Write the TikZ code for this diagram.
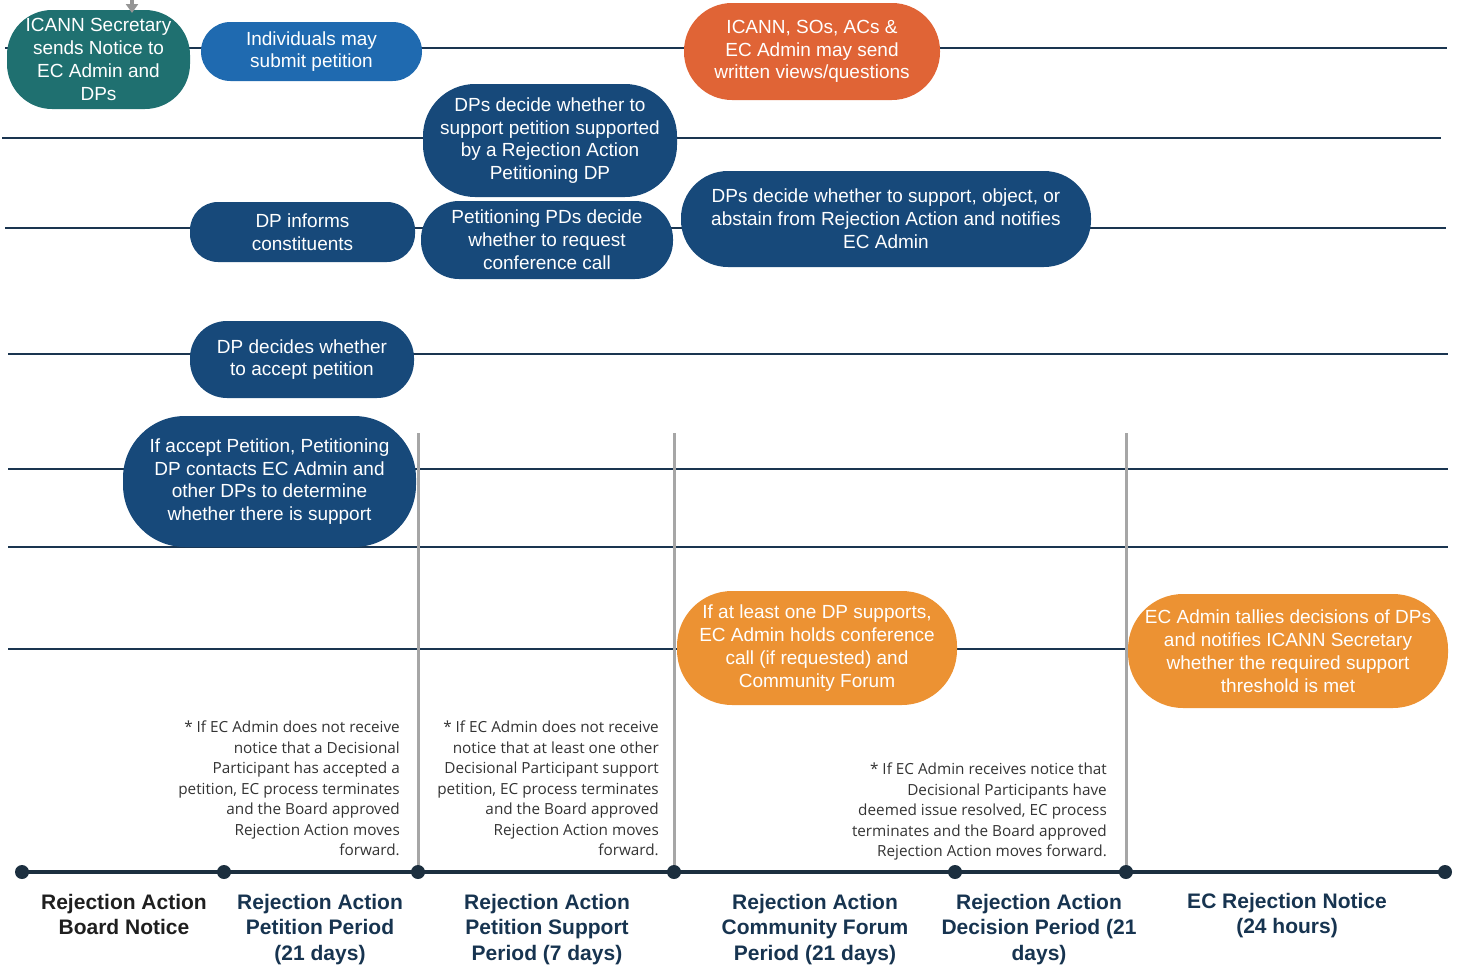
\documentclass[tikz,border=0pt]{standalone}
\usepackage{fontspec}
\setmainfont{Liberation Sans}
\newfontfamily\notefont{Open Sans}
\usetikzlibrary{positioning,arrows.meta}

\definecolor{secrteal}{HTML}{1F7070}
\definecolor{petblue}{HTML}{1F6AB0}
\definecolor{viewred}{HTML}{E06436}
\definecolor{dpnavy}{HTML}{17497A}
\definecolor{fororange}{HTML}{EC9233}
\definecolor{lanenavy}{HTML}{1A3550}
\definecolor{tlnavy}{HTML}{1C2F3F}
\definecolor{vgray}{HTML}{A6A6A6}
\definecolor{notegray}{HTML}{333333}
\definecolor{labnavy}{HTML}{173450}

\begin{document}
\begin{tikzpicture}[
	  x=1pt, y=-1pt,
	  %style for lanes
	  lane/.style={draw=lanenavy, line width=2.2pt},
	  %style for phase borders
	  vline/.style={draw=vgray, line width=3pt},
	  %style for the timeline
	  tline/.style={draw=tlnavy, line width=4pt},
	  % style for boxes
	  pill/.style={rectangle, rounded corners=#1, inner sep=0pt, align=center,
	    text=white, font=\fontsize{19}{22.8}\selectfont},
	  % style for notes
	  note/.style={inner sep=0pt, align=right, text=notegray,
	    font=\notefont\fontsize{15.3}{20.5}\selectfont},
	  % style for phase labels
	  lab/.style={inner sep=0pt, align=center, anchor=north, text=labnavy,
	    font=\bfseries\fontsize{21}{25.5}\selectfont}]

      \useasboundingbox (0,0) rectangle (1461,969);

      % lanes
      \foreach \y/\xa/\xb in {48/5/1447, 138/2/1441, 228/5/1446, 354/8/1448,
                              469/8/1448, 547/8/1448, 649/8/1440}
        \draw[lane] (\xa,\y) -- (\xb,\y);

      % timeline points
      \foreach \n/\x in {1/22, 2/224, 3/418, 4/674, 5/955, 6/1126, 7/1445}
        \coordinate (t\n) at (\x,872);
      \foreach \n in {3,4,6}
        \draw[vline] (t\n) -- ++(0,-439);

      \node[pill=45pt, fill=secrteal, minimum width=183pt, minimum height=99pt]
        (secr) at (98.5,59.5) {ICANN Secretary\\sends Notice to\\EC Admin and\\DPs};
      \node[pill=29.5pt, fill=petblue, minimum width=221pt, minimum height=59pt]
        (indiv) at (311.5,51.5) {Individuals may\\submit petition};
      \node[pill=48pt, fill=viewred, minimum width=256pt, minimum height=97pt]
        (views) at (812,51.5) {ICANN, SOs, ACs \&\\EC Admin may send\\written views/questions};
      \node[pill=52pt, fill=dpnavy, minimum width=254pt, minimum height=113pt]
        (dpsupp) at (550,140.5) {DPs decide whether to\\support petition supported\\by a Rejection Action\\Petitioning DP};
      \node[pill=28pt, fill=dpnavy, minimum width=225pt, minimum height=60pt]
        (inform) at (302.5,232) {DP informs\\constituents};
      \node[pill=38pt, fill=dpnavy, minimum width=252pt, minimum height=78pt]
        (confcall) at (547,240) {Petitioning PDs decide\\whether to request\\conference call};
      \node[pill=47pt, fill=dpnavy, minimum width=410pt, minimum height=96pt]
        (dpdecide) at (886,219) {DPs decide whether to support, object, or\\abstain from Rejection Action and notifies\\EC Admin};
      \node[pill=37pt, fill=dpnavy, minimum width=224pt, minimum height=77pt]
        (accept) at (302,359.5) {DP decides whether\\to accept petition};
      \node[pill=62pt, fill=dpnavy, minimum width=293pt, minimum height=131pt]
        (ifaccept) at (269.5,481.5) {If accept Petition, Petitioning\\DP contacts EC Admin and\\other DPs to determine\\whether there is support};
      \node[pill=55pt, fill=fororange, minimum width=280pt, minimum height=114pt]
        (forum) at (817,648) {If at least one DP supports,\\EC Admin holds conference\\call (if requested) and\\Community Forum};
      \node[pill=55pt, fill=fororange, minimum width=320pt, minimum height=114pt]
        (tally) at (1288,651) {EC Admin tallies decisions of DPs\\and notifies ICANN Secretary\\whether the required support\\threshold is met};

      % incoming notice
      \coordinate (src) at (132,-2);
      \draw[draw=vgray!90!black, line width=4pt, -{Triangle[width=12pt,length=9pt]}]
        (src) -- ++(0,15);

      % notes
      \node[note, anchor=north east] (note1) at (400,721)
        {* If EC Admin does not receive\\notice that a Decisional\\Participant has accepted a\\petition, EC process terminates\\and the Board approved\\Rejection Action moves\\forward.};
      \node[note, anchor=north east] (note2) at (659,721)
        {* If EC Admin does not receive\\notice that at least one other\\Decisional Participant support\\petition, EC process terminates\\and the Board approved\\Rejection Action moves\\forward.};
      \node[note, anchor=north east] (note3) at (1107,763)
        {* If EC Admin receives notice that\\Decisional Participants have\\deemed issue resolved, EC process\\terminates and the Board approved\\Rejection Action moves forward.};

      % timeline
      \draw[tline] (t1) -- (t7);
      \foreach \n in {1,...,7}
        \fill[tlnavy] (t\n) circle (7);

      % phase labels
      \node[lab, text=black!88] (ph1) at (124,894) {Rejection Action\\Board Notice};
      \node[lab] (ph2) at (320,894) {Rejection Action\\Petition Period\\(21 days)};
      \node[lab] (ph3) at (547,894) {Rejection Action\\Petition Support\\Period (7 days)};
      \node[lab] (ph4) at (815,894) {Rejection Action\\Community Forum\\Period (21 days)};
      \node[lab] (ph5) at (1039,894) {Rejection Action\\Decision Period (21\\days)};
      \node[lab] (ph6) at (1287,893) {EC Rejection Notice\\(24 hours)};

\end{tikzpicture}
\end{document}
